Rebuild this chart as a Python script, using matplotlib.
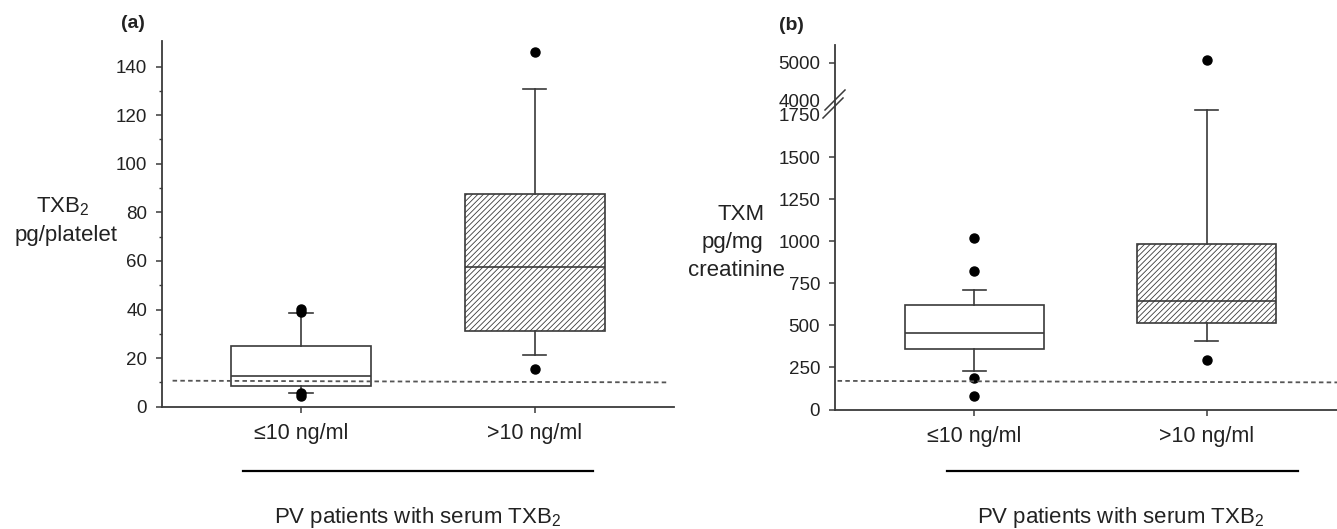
import numpy as np
import matplotlib
matplotlib.use("Agg")
import matplotlib.pyplot as plt

plt.rcParams['font.family'] = ['Liberation Sans', 'DejaVu Sans']
plt.rcParams['mathtext.fontset'] = 'custom'
plt.rcParams['mathtext.rm'] = 'Liberation Sans'
plt.rcParams['mathtext.it'] = 'Liberation Sans:italic'
plt.rcParams['mathtext.default'] = 'regular'

# ---------------- data ----------------
categories = ['≤10 ng/ml', '>10 ng/ml']

# panel (a): TXB2 pg/platelet
a_q1 = [8.5, 31.3]
a_med = [12.5, 57.6]
a_q3 = [25.0, 87.7]
a_whislo = [5.5, 21.4]
a_whishi = [38.4, 130.7]
a_fliers = [[40.3, 39.0, 5.8, 4.6], [145.8, 15.5]]
a_ref = [10.7, 10.0]          # dashed reference line (left, right)
a_yticks = [0, 20, 40, 60, 80, 100, 120, 140]

# panel (b): TXM pg/mg creatinine
b_q1 = [359, 512]
b_med = [456, 645]
b_q3 = [619, 982]
b_whislo = [230, 408]
b_whishi = [712, 1781]
b_fliers = [[1021, 821, 188, 79], [292, 5080]]
b_ref = [170, 161]
b_yticks = [0, 250, 500, 750, 1000, 1250, 1500, 1750, 4000, 5000]

positions = [1, 2]

W, H = 1337, 529
fig = plt.figure(figsize=(W / 100, H / 100), dpi=100)

INK = '#222222'
SP = '#3a3a3a'

plt.rcParams['hatch.linewidth'] = 0.6
plt.rcParams['hatch.color'] = '#333333'


def make_stats(q1, med, q3, lo, hi, fl):
    return [dict(q1=q1[i], med=med[i], q3=q3[i], whislo=lo[i], whishi=hi[i],
                 fliers=fl[i], label=categories[i]) for i in range(len(q1))]


def style_axes(ax):
    for s in ['top', 'right']:
        ax.spines[s].set_visible(False)
    for s in ['left', 'bottom']:
        ax.spines[s].set_color(SP)
        ax.spines[s].set_linewidth(1.3)
    ax.tick_params(axis='y', which='major', length=4, width=1.1, color=SP,
                   labelsize=13.5, labelcolor=INK, pad=6.5)
    ax.tick_params(axis='y', which='minor', length=2.5, width=1.0, color=SP)
    ax.tick_params(axis='x', length=4, width=1.1, color=SP, labelsize=15.5,
                   labelcolor=INK, pad=8)


def draw_boxes(ax, stats):
    bp = ax.bxp(stats, positions=positions, widths=0.6, capwidths=0.1,
                patch_artist=True, showfliers=True,
                boxprops=dict(linewidth=1.2, edgecolor=SP),
                medianprops=dict(color=SP, linewidth=1.2),
                whiskerprops=dict(color=SP, linewidth=1.2),
                capprops=dict(color=SP, linewidth=1.2),
                flierprops=dict(marker='o', markerfacecolor='black',
                                markeredgecolor='black', markersize=6.5))
    bp['boxes'][0].set_facecolor('white')
    bp['boxes'][1].set_facecolor('white')
    bp['boxes'][1].set_hatch('//////')
    return bp


# ---------------- panel (a) ----------------
axa = fig.add_axes([161.7 / W, 1 - 406.7 / H, (674 - 161.7) / W, (406.7 - 41) / H])
draw_boxes(axa, make_stats(a_q1, a_med, a_q3, a_whislo, a_whishi, a_fliers))
axa.set_xlim(0.4034, 2.597)
axa.set_ylim(0, 150.5)
axa.set_yticks(a_yticks)
axa.set_yticks(np.arange(10, 150, 20), minor=True)
axa.set_xticks(positions)
axa.set_xticklabels(categories)
style_axes(axa)
axa.plot([0.45, 2.571], a_ref, color='#555555', linewidth=1.3,
         dashes=(2.5, 1.8), zorder=3)

# ---------------- panel (b) with broken axis ----------------
B = 1790.0
T0 = 1839.0
R = 0.2216


def fwd(y):
    y = np.asarray(y, dtype=float)
    return np.where(y <= B, y,
                    np.where(y >= 4000, T0 + (y - 4000) * R,
                             B + (y - B) * (T0 - B) / (4000 - B)))


def inv(t):
    t = np.asarray(t, dtype=float)
    return np.where(t <= B, t,
                    np.where(t >= T0, 4000 + (t - T0) / R,
                             B + (t - B) * (4000 - B) / (T0 - B)))


axb = fig.add_axes([834.7 / W, 1 - 409.5 / H, (W - 834.7) / W, (409.5 - 45) / H])
axb.set_yscale('function', functions=(fwd, inv))
draw_boxes(axb, make_stats(b_q1, b_med, b_q3, b_whislo, b_whishi, b_fliers))
axb.set_xlim(0.3977, 2.5618)
axb.set_ylim(0, 5475)
axb.set_yticks(b_yticks)
axb.set_yticklabels([str(v) for v in b_yticks])
axb.yaxis.set_minor_locator(matplotlib.ticker.NullLocator())
axb.set_xticks(positions)
axb.set_xticklabels(categories)
style_axes(axb)
# hide tick marks at the break
for tk, v in zip(axb.yaxis.get_major_ticks(), b_yticks):
    if v in (1750, 4000):
        tk.tick1line.set_visible(False)
axb.plot([0.41, 2.5618], b_ref, color='#555555', linewidth=1.3,
         dashes=(2.5, 1.8), zorder=3)

# break marks on the y axis (axes fraction)
hb = 409.5 - 45
wb = W - 834.7
for (x0, y0, x1, y1) in [(825, 110, 845, 90), (823, 118, 843, 98)]:
    axb.plot([(x0 - 834.7) / wb, (x1 - 834.7) / wb],
             [(409.5 - y0) / hb, (409.5 - y1) / hb],
             transform=axb.transAxes, color=SP, linewidth=1.1, clip_on=False)

# ---------------- group lines and captions ----------------
for ax, x0, x1, yl, xt, yt in [(axa, 0.75, 2.25, -0.175, 1.501, -0.318),
                               (axb, 0.88, 2.393, -0.168, 1.629, -0.311)]:
    tr = ax.get_xaxis_transform()
    ax.plot([x0, x1], [yl, yl], transform=tr, color='black', linewidth=1.6,
            clip_on=False)
    ax.text(xt, yt, 'PV patients with serum TXB$_2$', transform=tr,
            ha='center', va='baseline', fontsize=16, color=INK)

# y labels (one text per line, as in the reference)
for txt, x, y in [('TXB$_2$', 63, 207), ('pg/platelet', 66, 236)]:
    fig.text(x / W, 1 - y / H, txt, ha='center', va='center', fontsize=16,
             color=INK)
for txt, x, y in [('TXM', 741, 215), ('pg/mg', 732, 243),
                  ('creatinine', 736, 271)]:
    fig.text(x / W, 1 - y / H, txt, ha='center', va='center', fontsize=16,
             color=INK)

# panel letters
fig.text(133 / W, 1 - 23 / H, '(a)', ha='center', va='center', fontsize=14,
         fontweight='bold', color=INK)
fig.text(791 / W, 1 - 25 / H, '(b)', ha='center', va='center', fontsize=14,
         fontweight='bold', color=INK)

fig.savefig('out.png', dpi=100)
